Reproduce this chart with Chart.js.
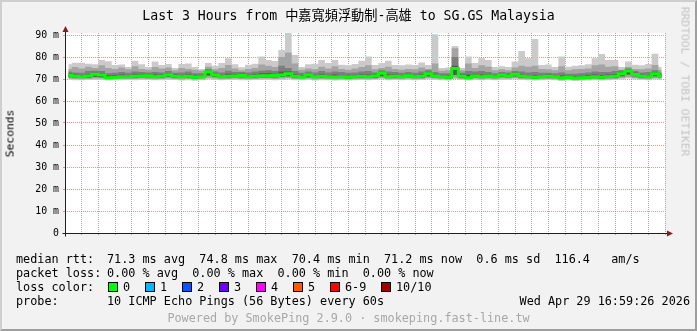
<!DOCTYPE html>
<html>
<head>
<meta charset="utf-8">
<script src="https://cdn.jsdelivr.net/npm/chart.js@4/dist/chart.umd.min.js"></script>
<style>
  body { margin: 0; background: #fff; }
  #wrap {
    position: relative; width: 697px; height: 331px; overflow: hidden;
    background: #f2f2f2; box-sizing: border-box;
    border-top: 2px solid #cfcfcf; border-left: 2px solid #cfcfcf;
    border-right: 2px solid #9e9e9e; border-bottom: 2px solid #9e9e9e;
  }
  #chart { position: absolute; left: -2px; top: -2px; }
  .t {
    position: absolute; white-space: pre; font-family: "DejaVu Sans Mono", monospace;
    font-size: 11.8px; line-height: 13px; color: #000;
  }
  .box {
    position: absolute; width: 8px; height: 8px; border: 1px solid #000;
  }
</style>
</head>
<body>
<div id="wrap">
  <canvas id="chart" width="697" height="331"></canvas>
</div>
<script>
// 2-minute samples, 13:59:26 .. 16:59:26 (x = minutes after 14:00)
const sampleStart = 0.4;
const sampleStep = 2;

// sorted ping values in ms (min, 2nd, 4th, median, 7th, 8th, 9th, max)
const rttMin = [69.6,69.4,69.4,69.5,69.6,69.6,69.3,69.4,69.4,69.5, 69.4,69.6,69.5,69.4,69.4,69.6,69.5,69.3,69.4,69.2,
  69.4,69.8,69.6,69.4,69.5,69.6,69.4,69.4,69.5,69.6, 69.6,69.4,69.6,69.8,69.4,69.4,69.6,69.3,69.4,69.4,
  69.3,69.4,69.3,69.4,69.5,69.4,69.5,69.8,69.4,69.5, 69.4,69.6,69.4,69.5,69.8,69.6,69.4,69.3,70.0,69.5,
  69.3,69.6,69.4,69.6,69.4,69.6,69.6,69.8,69.5,69.4, 69.3,69.4,69.5,69.4,69.1,69.3,69.1,69.2,69.3,69.4,
  69.3,69.4,69.5,69.8,70.2,69.8,69.5,69.4,69.8,69.6];
const rtt2 = [70.2,70.0,69.9,70.0,70.2,70.2,69.8,69.9,70.0,70.0, 70.0,70.2,70.0,69.9,70.0,70.2,70.0,69.8,70.0,69.8,
  69.9,70.6,70.2,69.9,70.0,70.2,70.0,69.9,70.0,70.2, 70.2,70.0,70.2,70.4,70.0,69.9,70.2,69.8,70.0,69.9,
  69.8,69.9,69.8,69.9,70.0,69.9,70.0,70.4,69.9,70.0, 69.9,70.2,69.9,70.0,70.4,70.2,69.9,69.8,70.6,70.0,
  69.8,70.2,69.9,70.2,69.9,70.2,70.2,70.4,70.0,69.9, 69.8,69.9,70.0,69.9,69.6,69.8,69.6,69.7,69.8,69.9,
  69.8,69.9,70.0,70.4,70.8,70.4,70.0,69.9,70.4,70.2];
const rtt4 = [70.8,70.6,70.4,70.6,71.0,70.8,70.2,70.4,70.4,70.6, 70.6,70.8,70.8,70.4,70.6,71.0,70.6,70.4,70.6,70.2,
  70.4,71.6,71.0,70.4,70.6,70.8,70.8,70.4,70.6,70.8, 70.8,70.8,71.0,71.2,70.6,70.4,70.8,70.4,70.6,70.4,
  70.4,70.4,70.2,70.4,70.6,70.4,70.6,71.2,70.4,70.6, 70.4,70.8,70.4,70.6,71.2,70.8,70.4,70.2,71.8,70.6,
  70.2,70.8,70.4,70.8,70.4,71.0,70.8,71.2,70.6,70.4, 70.2,70.4,70.6,70.4,70.0,70.2,70.0,70.2,70.2,70.4,
  70.2,70.4,70.6,71.2,72.0,71.2,70.6,70.4,71.2,70.8];
const rttMedian = [71.6,71.2,71.0,71.4,72.2,71.8,70.6,70.8,71.0,71.0, 71.2,71.4,71.5,71.0,71.2,71.9,71.2,71.0,71.2,70.8,
  71.0,73.3,71.8,71.0,71.2,71.4,71.6,71.0,71.3,71.5, 71.5,71.6,71.8,72.4,71.2,70.9,71.8,71.0,71.2,71.0,
  70.9,71.0,70.8,71.0,71.2,71.0,71.4,72.6,71.0,71.2, 71.0,71.5,71.0,71.2,72.4,71.4,71.0,70.8,74.8,71.2,
  70.6,71.4,71.0,71.4,71.0,71.8,71.4,72.2,71.2,71.0, 70.8,71.0,71.2,71.0,70.6,70.7,70.5,70.6,70.8,71.0,
  70.8,71.0,71.2,72.4,73.6,72.0,71.2,71.0,72.4,71.4];
const rtt7 = [72.4,72.0,71.8,72.2,72.8,72.6,71.6,71.8,72.0,71.8, 72.2,72.2,72.2,72.0,72.0,72.6,72.0,71.8,72.2,71.6,
  71.8,73.8,72.4,71.8,72.4,72.2,72.4,71.8,72.2,72.6, 72.6,72.4,73.4,73.4,72.2,71.8,72.4,71.8,72.2,71.8,
  72.0,71.8,71.6,71.8,72.2,72.0,72.2,73.2,72.0,72.0, 71.8,72.2,71.8,72.2,73.0,72.2,71.8,71.6,76.0,72.0,
  72.0,72.2,72.0,72.2,71.8,72.4,72.2,72.8,72.0,71.8, 71.8,71.8,72.0,71.8,71.6,71.4,71.4,71.4,71.8,72.0,
  71.8,72.0,72.2,73.2,74.2,72.8,72.0,71.8,73.2,72.2];
const rtt8 = [73.4,73.0,72.8,73.6,73.8,73.6,72.6,72.8,73.2,72.8, 73.4,73.2,73.0,73.2,73.0,73.6,72.8,73.0,73.4,72.6,
  72.6,74.6,73.4,73.0,73.8,73.2,73.2,73.0,73.4,73.8, 74.0,73.6,76.0,75.0,73.6,72.8,73.4,73.0,73.6,73.0,
  73.4,73.2,72.8,73.0,73.4,73.6,73.0,74.0,73.4,73.2, 72.8,73.2,72.8,73.4,74.0,73.2,72.6,72.6,80.0,72.8,
  73.6,73.4,73.6,73.2,72.6,73.2,73.0,73.6,73.4,73.0, 73.2,72.8,72.8,72.6,73.0,72.4,72.4,72.6,73.0,73.4,
  73.2,73.2,73.6,74.0,74.8,73.6,73.0,73.2,74.0,73.0];
const rtt9 = [74.6,75.4,74.8,75.6,75.0,76.2,75.0,74.5,75.2,74.4, 75.8,74.6,74.2,75.4,74.8,75.2,74.0,75.0,74.6,74.2,
  73.8,75.6,74.4,75.0,76.4,74.8,74.0,74.6,75.0,76.6, 76.0,75.4,80.0,82.0,77.0,74.2,74.8,74.4,75.6,74.8,
  75.8,74.6,74.2,74.8,75.4,76.2,74.4,75.0,75.6,74.6, 74.2,74.6,74.4,75.2,74.6,77.0,73.8,74.0,84.0,74.0,
  77.0,75.0,76.2,75.6,74.0,74.4,74.0,75.2,76.0,75.6, 76.0,74.6,74.4,74.0,75.8,74.0,74.4,74.6,74.8,76.2,
  76.6,75.6,75.8,74.2,75.4,74.6,74.4,74.8,76.4,74.2];
const rttMax = [76.7,77.4,77.4,76.9,76.7,78.6,78.1,76.4,76.6,75.5, 78.3,76.7,75.5,77.9,76.4,76.8,75.0,76.8,77.1,75.5,
  74.6,77.3,76.0,77.3,79.4,76.7,75.3,76.5,76.9,80.2, 78.6,78.2,83.2,91.2,80.9,75.5,76.7,76.9,78.6,77.3,
  78.6,76.5,76.2,76.8,78.3,80.2,76.4,77.3,78.3,76.4, 76.2,76.6,76.4,77.5,76.4,90.3,75.0,75.2,85.0,75.0,
  80.2,77.3,79.4,78.6,75.5,75.8,75.4,77.9,82.7,79.4, 88.2,76.4,76.6,75.5,80.2,75.6,76.0,76.3,76.7,79.4,
  81.4,78.6,78.6,75.5,77.9,76.5,76.2,76.8,81.5,75.5];

const sampleX = rttMedian.map((_, i) => sampleStart + i * sampleStep);

const lossLabels = ['0', '1', '2', '3', '4', '5', '6-9', '10/10'];
const lossColors = ['#00ff00', '#00b8ff', '#0059ff', '#6a00ff', '#ff00ff', '#ff5a00', '#ff0000', '#a00000'];

const MONO = '"DejaVu Sans Mono", monospace';

function band(data, color, target) {
  return {
    data: data,
    borderColor: 'rgba(0,0,0,0)',
    borderWidth: 0,
    backgroundColor: color,
    fill: target === undefined ? false : { target: target },
    pointRadius: 0,
    stepped: 'middle'
  };
}

const datasets = [
  { data: rttMedian, borderColor: '#00ff00', borderWidth: 3, pointRadius: 0, fill: false, stepped: 'middle' },
  band(rtt7, '#585858', 2),
  band(rtt4, 'rgba(0,0,0,0)'),
  band(rtt8, '#7e7e7e', 2),
  band(rtt9, '#a4a4a4', 5),
  band(rtt2, 'rgba(0,0,0,0)'),
  band(rttMax, '#cacaca', 7),
  band(rttMin, 'rgba(0,0,0,0)')
];

const frame = {
  id: 'frame',
  beforeDraw(chart) {
    const { ctx, chartArea: a } = chart;
    ctx.save();
    ctx.fillStyle = '#ffffff';
    ctx.fillRect(a.left, a.top, a.right - a.left, a.bottom - a.top);
    ctx.restore();
  },
  afterDraw(chart) {
    const { ctx, chartArea: a } = chart;
    const x0 = Math.round(a.left) + 0.5, y0 = Math.round(a.bottom) + 0.5;
    ctx.save();
    ctx.strokeStyle = '#1f1f1f';
    ctx.lineWidth = 1;
    ctx.beginPath();
    ctx.moveTo(x0, y0 + 3); ctx.lineTo(x0, a.top - 4);
    ctx.moveTo(x0 - 3, y0); ctx.lineTo(a.right + 4, y0);
    ctx.stroke();
    ctx.fillStyle = '#801f1f';
    ctx.beginPath();
    ctx.moveTo(x0, a.top - 7); ctx.lineTo(x0 - 3, a.top - 1); ctx.lineTo(x0 + 3, a.top - 1); ctx.closePath();
    ctx.fill();
    ctx.beginPath();
    ctx.moveTo(a.right + 8, y0); ctx.lineTo(a.right + 2, y0 - 3); ctx.lineTo(a.right + 2, y0 + 3); ctx.closePath();
    ctx.fill();
    ctx.restore();
  }
};

const gridMajor = 'rgba(222,79,79,0.6)';
const gridMinor = 'rgba(143,143,143,0.75)';

new Chart(document.getElementById('chart'), {
  type: 'line',
  data: { labels: sampleX, datasets: datasets },
  options: {
    responsive: false,
    animation: false,
    events: [],
    layout: { padding: { left: 0, top: 33, right: 32, bottom: 78 } },
    plugins: { legend: { display: false }, tooltip: { enabled: false } },
    scales: {
      x: {
        type: 'linear', min: -0.6, max: 179.4, bounds: 'data',
        afterFit: s => { s.height = 20; },
        border: { display: false, dash: [1, 1] },
        grid: {
          color: c => c.tick.value % 20 === 0 ? gridMajor : gridMinor,
          tickColor: c => c.tick.value % 20 === 0 ? gridMajor : gridMinor,
          tickLength: 2
        },
        ticks: {
          stepSize: 5, includeBounds: false, autoSkip: false, maxRotation: 0, padding: 1,
          color: '#000', font: { family: MONO, size: 9.9 },
          callback: v => {
            if (v % 20 !== 0) return '';
            const m = 14 * 60 + v;
            return Math.floor(m / 60) + ':' + String(m % 60).padStart(2, '0');
          }
        }
      },
      y: {
        min: 0, max: 200 / 2.2, bounds: 'data',
        afterFit: s => { s.width = 65; },
        border: { display: false, dash: [1, 1] },
        grid: {
          color: c => c.tick.value % 10 === 0 ? gridMajor : gridMinor,
          tickColor: c => c.tick.value % 10 === 0 ? gridMajor : gridMinor,
          tickLength: 2
        },
        ticks: {
          stepSize: 5, includeBounds: false, padding: 4,
          color: '#000', font: { family: MONO, size: 9.9 },
          callback: v => v === 0 ? '0' : (v % 10 === 0 ? v + ' m' : '')
        }
      }
    }
  },
  plugins: [frame]
});

// text around the graph
const wrap = document.getElementById('wrap');
function text(str, x, y, extra) {
  const el = document.createElement('div');
  el.className = 't';
  el.textContent = str;
  el.style.left = (x - 2) + 'px';
  el.style.top = (y - 2 - 6.5) + 'px';
  if (extra) Object.assign(el.style, extra);
  wrap.appendChild(el);
  return el;
}

text('Last 3 Hours from 中嘉寬頻浮動制-高雄 to SG.GS Malaysia', 0, 15,
  { width: '697px', textAlign: 'center', fontSize: '13.2px', fontFamily: '"DejaVu Sans Mono", "Noto Sans CJK TC", monospace' });

text('Seconds', 10, 133, { transform: 'translate(-50%, 0) rotate(-90deg)', transformOrigin: '50% 50%', fontSize: '11.3px' });
text('RRDTOOL / TOBI OETIKER', 685, 81, { transform: 'translate(-50%, 0) rotate(90deg)', transformOrigin: '50% 50%', color: '#c4c4c4', fontSize: '11.3px' });

text('median rtt:', 16, 259);
text('71.3 ms avg  74.8 ms max  70.4 ms min  71.2 ms now  0.6 ms sd  116.4   am/s', 107, 259);
text('packet loss:', 16, 273);
text('0.00 % avg  0.00 % max  0.00 % min  0.00 % now', 107, 273);

text('loss color:', 16, 287);
const boxX = [108, 145, 182, 219, 256, 293, 330, 381];
lossLabels.forEach((lab, i) => {
  const b = document.createElement('div');
  b.className = 'box';
  b.style.left = (boxX[i] - 2) + 'px';
  b.style.top = (287 - 2 - 5) + 'px';
  b.style.background = lossColors[i];
  wrap.appendChild(b);
  text(lab, boxX[i] + 15, 287);
});

text('probe:', 16, 301);
text('10 ICMP Echo Pings (56 Bytes) every 60s', 107, 301);
text('Wed Apr 29 16:59:26 2026', 0, 301, { width: '690px', textAlign: 'right' });
text('Powered by SmokePing 2.9.0 · smokeping.fast-line.tw', 0, 318,
  { width: '697px', textAlign: 'center', color: '#a8a8a8' });
</script>
</body>
</html>
